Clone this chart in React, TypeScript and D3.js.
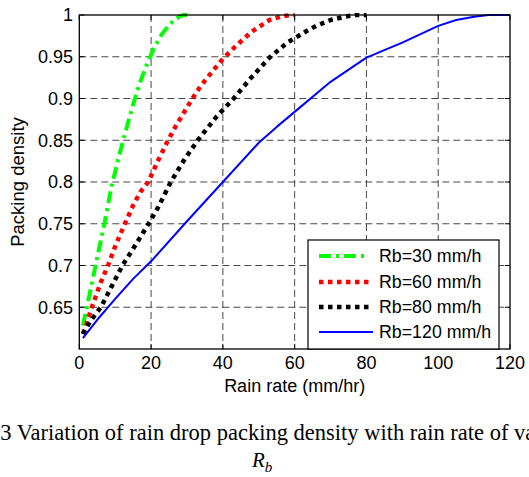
import React from "react";
import * as d3 from "d3";

// Rain rate (mm/hr) vs packing density
const rb30X = [1, 3, 5, 7, 9, 11, 13, 15, 17, 19, 21, 23, 25, 27, 29, 30];
const rb30Y = [0.628, 0.668, 0.71, 0.75, 0.795, 0.83, 0.862, 0.893, 0.92, 0.943, 0.962, 0.977, 0.988, 0.996, 1, 1];

const rb60X = [1, 2, 3.5, 6, 8, 10, 12.7, 15, 17, 19.2, 22, 24.5, 27, 29, 31.5, 34, 37, 39.7, 43.4, 48, 53, 56, 59, 60];
const rb60Y = [0.618, 0.63, 0.65, 0.68, 0.7, 0.723, 0.75, 0.772, 0.788, 0.8, 0.826, 0.848, 0.868, 0.882, 0.9, 0.916, 0.932, 0.946, 0.962, 0.98, 0.994, 0.998, 1, 1];

const rb80X = [1, 3, 6, 9, 12, 15, 19.3, 22, 25.5, 29, 33, 38, 43, 47.5, 53, 58, 63, 66, 70, 74, 77, 80];
const rb80Y = [0.618, 0.633, 0.65, 0.675, 0.7, 0.72, 0.75, 0.77, 0.8, 0.825, 0.85, 0.877, 0.9, 0.923, 0.949, 0.967, 0.98, 0.987, 0.994, 0.998, 1, 1];

const rb120X = [1, 5, 10, 15, 20, 30, 40, 50, 55, 60, 70, 80, 90, 100, 105, 110, 114, 120];
const rb120Y = [0.613, 0.635, 0.66, 0.684, 0.705, 0.753, 0.8, 0.847, 0.866, 0.884, 0.92, 0.949, 0.967, 0.987, 0.994, 0.998, 1, 1];

const legendLabels = ["Rb=30 mm/h", "Rb=60 mm/h", "Rb=80 mm/h", "Rb=120 mm/h"];
const xTicks = [0, 20, 40, 60, 80, 100, 120];
const yTicks = [0.65, 0.7, 0.75, 0.8, 0.85, 0.9, 0.95, 1];

const W = 529;
const H = 477;
const left = 79.3;
const right = 510;
const top = 15;
const bottom = 349;
const font = "'Liberation Sans', Arial, sans-serif";
const serif = "'Liberation Serif', 'Times New Roman', serif";

const series = [
  { xs: rb30X, ys: rb30Y, color: "#00ff00", width: 4, dash: "12,5,3,5" },
  { xs: rb60X, ys: rb60Y, color: "#ff0000", width: 4.5, dash: "4.5,4.5" },
  { xs: rb80X, ys: rb80Y, color: "#000000", width: 4.5, dash: "4.5,4.5" },
  { xs: rb120X, ys: rb120Y, color: "#0000ff", width: 2, dash: "none" },
];

export default function App() {
  const x = d3.scaleLinear().domain([0, 120]).range([left, right]);
  const y = d3.scaleLinear().domain([0.6, 1]).range([bottom, top]);
  const line = d3
    .line<[number, number]>()
    .x((d) => x(d[0]))
    .y((d) => y(d[1]));

  const gridStyle = { stroke: "#333", strokeWidth: 0.9, strokeDasharray: "7,4" };
  const legX = 308;
  const legRows = [256, 282, 307, 332];

  return (
    <svg
      width={W}
      height={H}
      style={{ position: "absolute", left: 0, top: 0, background: "#fff" }}
      fontFamily={font}
    >
      <defs>
        <clipPath id="plot">
          <rect x={left} y={top - 2} width={right - left} height={bottom - top + 2} />
        </clipPath>
      </defs>
      <rect x={0} y={0} width={W} height={H} fill="#fff" />

      {/* grid */}
      {xTicks.slice(1, -1).map((t) => (
        <line key={"gx" + t} x1={x(t)} x2={x(t)} y1={top} y2={bottom} {...gridStyle} />
      ))}
      {yTicks.slice(0, -1).map((t) => (
        <line key={"gy" + t} x1={left} x2={right} y1={y(t)} y2={y(t)} {...gridStyle} />
      ))}

      {/* curves */}
      <g clipPath="url(#plot)">
        {series.map((s, i) => (
          <path
            key={i}
            d={line(s.xs.map((v, j) => [v, s.ys[j]] as [number, number])) || ""}
            fill="none"
            stroke={s.color}
            strokeWidth={s.width}
            strokeDasharray={s.dash}
            strokeLinejoin="round"
          />
        ))}
      </g>

      {/* axes box and ticks */}
      <rect x={left} y={top} width={right - left} height={bottom - top} fill="none" stroke="#000" strokeWidth={1.3} />
      {xTicks.map((t) => (
        <g key={"tx" + t}>
          <line x1={x(t)} x2={x(t)} y1={bottom} y2={bottom - 5} stroke="#000" />
          <line x1={x(t)} x2={x(t)} y1={top} y2={top + 5} stroke="#000" />
          <text x={x(t)} y={369} fontSize={18} textAnchor="middle" fill="#000">
            {t}
          </text>
        </g>
      ))}
      {yTicks.map((t) => (
        <g key={"ty" + t}>
          <line x1={left} x2={left + 5} y1={y(t)} y2={y(t)} stroke="#000" />
          <line x1={right} x2={right - 5} y1={y(t)} y2={y(t)} stroke="#000" />
          <text x={73} y={y(t)} dy="0.35em" fontSize={18} textAnchor="end" fill="#000">
            {t}
          </text>
        </g>
      ))}

      {/* legend */}
      <rect x={legX} y={240} width={499 - legX} height={bottom - 240} fill="#fff" stroke="#000" strokeWidth={1.2} />
      {series.map((s, i) => (
        <g key={"leg" + i}>
          <line
            x1={319}
            x2={i === 3 ? 373 : 369}
            y1={legRows[i]}
            y2={legRows[i]}
            stroke={s.color}
            strokeWidth={s.width}
            strokeDasharray={s.dash}
          />
          <text x={379} y={legRows[i]} dy="0.35em" fontSize={17.8} fill="#000">
            {legendLabels[i]}
          </text>
        </g>
      ))}

      {/* axis labels */}
      <text x={(left + right) / 2} y={392} fontSize={18} textAnchor="middle" fill="#000">
        Rain rate (mm/hr)
      </text>
      <text
        transform={`translate(24,${(top + bottom) / 2}) rotate(-90)`}
        fontSize={18.5}
        textAnchor="middle"
        fill="#000"
      >
        Packing density
      </text>

      {/* caption, cropped at the page edges as in the source */}
      <text x={-41} y={440} fontSize={22.5} fontFamily={serif} fill="#000">
        Fig. 3 Variation of rain drop packing density with rain rate of various
      </text>
      <text x={252} y={467} fontSize={21} fontFamily={serif} fontStyle="italic" fill="#000">
        R
        <tspan fontSize={15} dy={5}>
          b
        </tspan>
      </text>
    </svg>
  );
}
